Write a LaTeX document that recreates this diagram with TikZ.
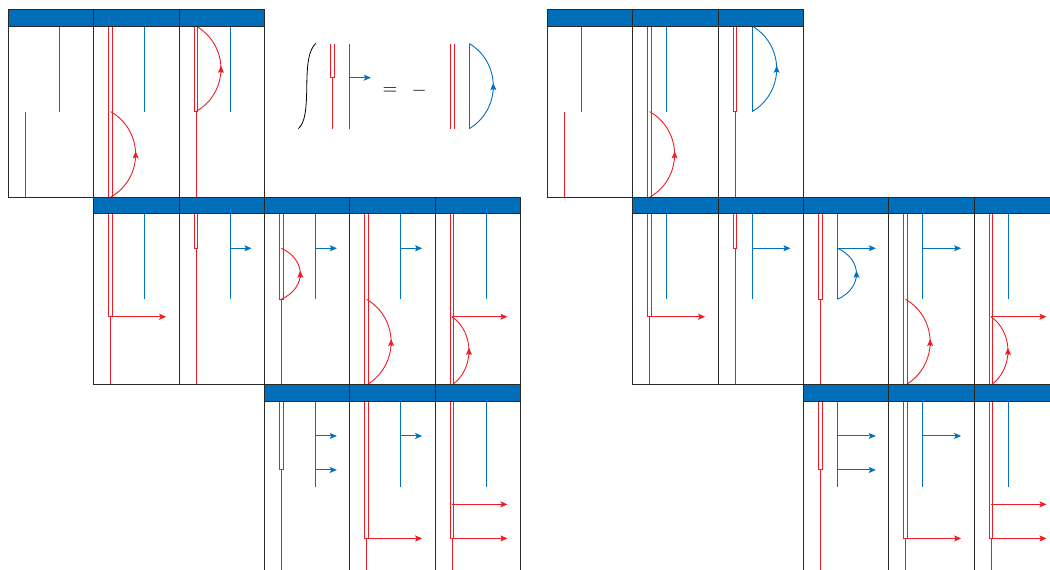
\documentclass[tikz,border=0pt]{standalone}
\usetikzlibrary{arrows.meta}
\definecolor{hdrblue}{RGB}{0,110,184}
\definecolor{lnblue}{RGB}{0,113,188}
\definecolor{lnred}{RGB}{238,28,37}
\definecolor{frame}{RGB}{40,40,40}
\tikzset{
  redl/.style={draw=lnred,line width=0.9pt},
  bluel/.style={draw=lnblue,line width=0.9pt},
  tip/.style={-{Stealth[length=7pt,width=6pt,inset=1.5pt]}},
  framel/.style={draw=frame,line width=0.9pt},
  hdr/.style={fill=hdrblue,draw=frame,line width=0.9pt},
}
\def\px{17}
\def\pw{85.33}
\def\ph{187.67}
\def\hdrh{16.4}
\newcommand{\cell}[3]{%
  \begin{scope}[shift={({\xo+#1*\pw},{9.6+#2*\ph})}]
    #3
    \path[hdr] (0,0) rectangle (\pw,\hdrh);
    \path[framel] (0,0) rectangle (\pw,\ph);
  \end{scope}}
% double red line from the header down to #1, then single to the panel foot
\newcommand{\dbl}[1]{%
  \draw[redl] (\px-1.7,\hdrh) -- (\px-1.7,#1) -- (\px+1.7,#1) -- (\px+1.7,\hdrh);
  \draw[redl] (\px,#1) -- (\px,\ph);}
\newcommand{\sng}{\draw[redl] (\px,102) -- (\px,\ph);}
\newcommand{\blu}{\draw[bluel] (\bo,\hdrh) -- (\bo,102);}
\newcommand{\barr}[1]{\draw[bluel,tip] (\bo,#1) -- (72.5,#1);}
\newcommand{\rarr}[1]{\draw[redl,tip] (\px,#1) -- (72.5,#1);}
% arc: style, x, top y, bottom y, sag
\newcommand{\bow}[5]{%
  \draw[#1] (#2,#4) .. controls ({#2+1.333*#5},{#4-0.226*(#4-#3)}) and ({#2+1.333*#5},{#3+0.226*(#4-#3)}) .. (#2,#3);
  \draw[#1,tip] ({#2+#5},{0.5*(#3+#4)+4}) -- ({#2+#5},{0.5*(#3+#4)-3});}
\newcommand{\commonpanels}{%
  \cell{0}{0}{\blu \sng}
  \cell{1}{0}{\dbl{\ph} \bow{redl}{\px}{102}{\ph}{25} \blu}
  \cell{1}{1}{\dbl{119.5} \rarr{119.5} \blu}
  \cell{2}{1}{\dbl{51} \blu \barr{51}}
  \cell{4}{1}{\dbl{\ph} \bow{redl}{\px}{102}{\ph}{24.5} \blu \barr{51}}
  \cell{5}{1}{\dbl{\ph} \rarr{119.5} \bow{redl}{\px}{119.5}{\ph}{17} \blu}
  \cell{3}{2}{\dbl{85} \blu \barr{51} \barr{85}}
  \cell{4}{2}{\dbl{153.5} \rarr{153.5} \blu \barr{51}}
  \cell{5}{2}{\dbl{153.5} \rarr{119.4} \rarr{153.5} \blu}
}
\begin{document}
\begin{tikzpicture}[x=1pt,y=-1pt]
\useasboundingbox (0,0) rectangle (1050,570);
\clip (0,0) rectangle (1050,570);
% left table
\def\xo{8.3}\def\bo{51.2}
\commonpanels
\cell{2}{0}{\dbl{102} \bow{redl}{\px}{\hdrh}{102}{25} \blu}
\cell{3}{1}{\dbl{102} \bow{redl}{\px}{51}{102}{19} \blu \barr{51}}
% right table
\def\xo{547.3}\def\bo{34.2}
\commonpanels
\cell{2}{0}{\dbl{102} \blu \bow{bluel}{\bo}{\hdrh}{102}{24.5}}
\cell{3}{1}{\dbl{102} \blu \barr{51} \bow{bluel}{\bo}{51}{102}{19}}
% formula
\draw[draw=black,line width=0.8pt] (298.3,128.6) .. controls (305,123) and (306.5,110) .. (306.8,86)
  .. controls (307,62) and (309,50) .. (315.8,43.3);
\draw[redl] (330.6,43.5) -- (330.6,77.7) -- (334,77.7) -- (334,43.5);
\draw[redl] (332.3,77.7) -- (332.3,128.7);
\draw[bluel] (349.7,43.5) -- (349.7,128.7);
\draw[bluel,tip] (349.7,77.7) -- (370.8,77.7);
\node[scale=1.9,inner sep=0pt] (eqsign) at (390,91) {$=$};
\node[scale=1.9,inner sep=0pt] (minussign) at (419.2,91) {$-$};
\draw[redl] (450.4,43.5) -- (450.4,128.7);
\draw[redl] (454,43.5) -- (454,128.7);
\draw[bluel] (469.3,43.5) -- (469.3,128.7);
\bow{bluel}{469.3}{43.5}{128.7}{24}
\end{tikzpicture}
\end{document}
